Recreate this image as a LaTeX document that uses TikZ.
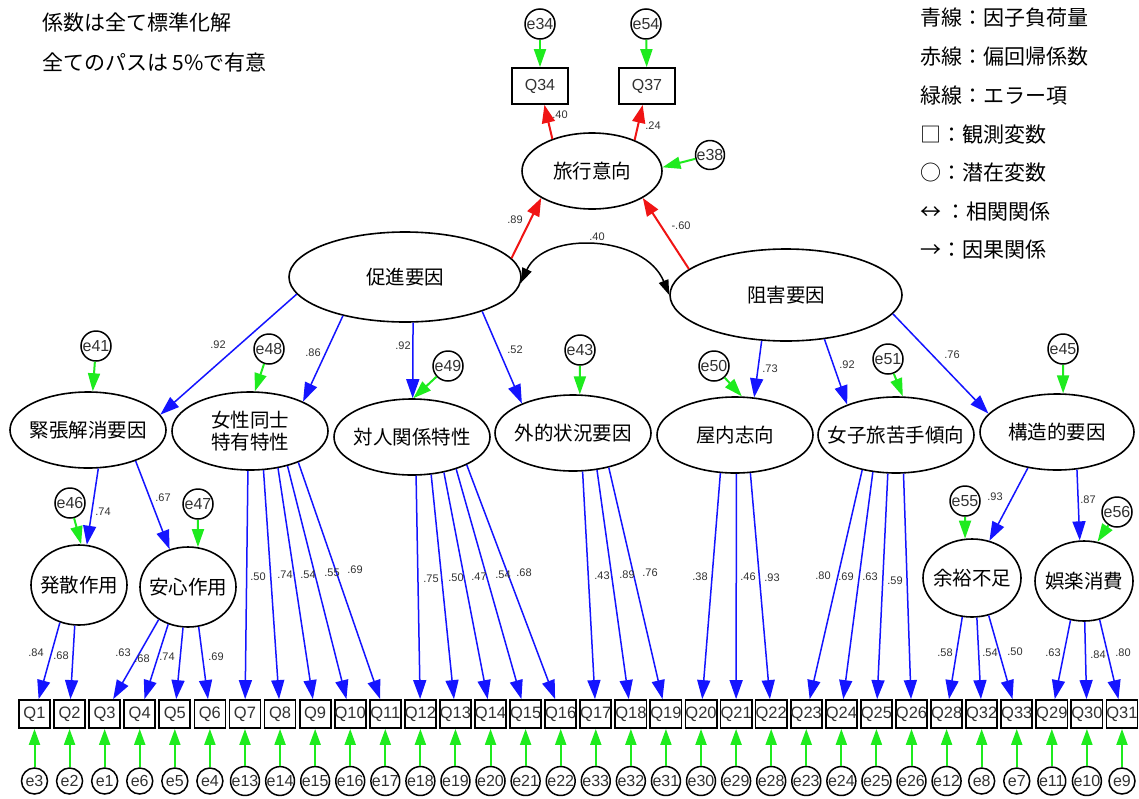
\documentclass[tikz,border=0pt]{standalone}
\usepackage{fontspec}
\setmainfont{Liberation Sans}
\newfontfamily\cjk{Noto Sans CJK JP}
\usetikzlibrary{shapes.geometric,arrows.meta}
\definecolor{ablue}{RGB}{20,20,255}
\definecolor{agreen}{RGB}{30,235,30}
\definecolor{ared}{RGB}{240,20,20}
\definecolor{atext}{RGB}{50,50,50}
\begin{document}
\begin{tikzpicture}[x=1pt,y=-1pt,
 lat/.style={ellipse, draw, line width=1.6pt, inner sep=0pt},
 lattext/.style={font=\cjk\fontsize{19.5}{22}\selectfont, align=center, inner sep=0pt},
 obs/.style={rectangle, draw, line width=1.8pt, minimum width=31pt, minimum height=28pt, inner sep=0pt, font=\fontsize{16.5}{16.5}\selectfont, text=atext},
 obsbig/.style={obs, minimum width=56pt, minimum height=36pt, font=\fontsize{16}{16}\selectfont},
 err/.style={circle, draw, line width=1.5pt, minimum size=26pt, inner sep=0pt, font=\fontsize{16}{16}\selectfont, text=atext},
 errbig/.style={err, minimum size=30pt},
 coef/.style={font=\fontsize{11}{11}\selectfont, text=atext, inner sep=0pt},
 ld/.style={draw=ablue, line width=1.5pt, -{Triangle[length=19pt,width=13pt]}},
 ea/.style={draw=agreen, line width=2pt, -{Triangle[length=18pt,width=12pt]}},
 eab/.style={draw=agreen, line width=2pt, -{Triangle[length=16pt,width=11pt]}},
 rg/.style={draw=ared, line width=2pt, -{Triangle[length=18pt,width=13pt]}},
 cv/.style={draw=black, line width=1.5pt, {Triangle[length=15pt,width=10pt]}-{Triangle[length=15pt,width=10pt]}},
 txt/.style={font=\cjk\fontsize{21}{21}\selectfont, anchor=west, inner sep=0pt},
]
\fill[white] (0,0) rectangle (1139,798);
\useasboundingbox (0,0) rectangle (1139,798);

% notes
\node[txt] (n1) at (42,22) {係数は全て標準化解};
\node[txt] (n2) at (42,62) {全てのパスは 5\%で有意};
% legend
\node[txt] (lg1) at (920,18) {青線：因子負荷量};
\node[txt] (lg2) at (920,57) {赤線：偏回帰係数};
\node[txt] (lg3) at (920,96) {緑線：エラー項};
\node[txt] (lg4) at (920,135) {□：観測変数};
\node[txt] (lg5) at (920,173) {○：潜在変数};
\node[txt] (lg6) at (920,212) {↔ ：相関関係};
\node[txt] (lg7) at (920,250) {→：因果関係};

% latent variables
\node[lat, minimum width=140pt, minimum height=76pt, label={[lattext]center:旅行意向}] (T) at (592,171) {};
\node[lat, minimum width=232pt, minimum height=90pt, label={[lattext]center:促進要因}] (C) at (405,277) {};
\node[lat, minimum width=232pt, minimum height=92pt, label={[lattext]center:阻害要因}] (S) at (786,295) {};
\node[lat, minimum width=156pt, minimum height=76pt, label={[lattext]center:緊張解消要因}] (F1) at (88,430) {};
\node[lat, minimum width=156pt, minimum height=78pt, label={[lattext]center:{女性同士\\特有特性}}] (F2) at (250,431) {};
\node[lat, minimum width=156pt, minimum height=76pt, label={[lattext]center:対人関係特性}] (F3) at (412,437) {};
\node[lat, minimum width=156pt, minimum height=76pt, label={[lattext]center:外的状況要因}] (F4) at (573,433) {};
\node[lat, minimum width=156pt, minimum height=76pt, label={[lattext]center:屋内志向}] (F5) at (735,435) {};
\node[lat, minimum width=156pt, minimum height=76pt, label={[lattext]center:女子旅苦手傾向}] (F6) at (896,435) {};
\node[lat, minimum width=154pt, minimum height=76pt, label={[lattext]center:構造的要因}] (F7) at (1057,432) {};
\node[lat, minimum width=96pt, minimum height=80pt, label={[lattext]center:発散作用}] (G1) at (79,585) {};
\node[lat, minimum width=96pt, minimum height=80pt, label={[lattext]center:安心作用}] (G2) at (188,587) {};
\node[lat, minimum width=98pt, minimum height=78pt, label={[lattext]center:余裕不足}] (G3) at (972,578) {};
\node[lat, minimum width=98pt, minimum height=80pt, label={[lattext]center:娯楽消費}] (G4) at (1084,581) {};

% top observed
\node[obsbig] (Q34) at (540,86) {Q34};
\node[obsbig] (Q37) at (647,86) {Q37};
\node[errbig] (e34) at (540,24) {e34};
\node[errbig] (e54) at (646,24) {e54};
\node[errbig, minimum size=28pt] (e38) at (710,155) {e38};

% error circles of latent variables
\node[errbig] (e41) at (96,346) {e41};
\node[errbig] (e48) at (269,349) {e48};
\node[errbig] (e49) at (448,366) {e49};
\node[errbig] (e43) at (580,350) {e43};
\node[errbig] (e50) at (714,366) {e50};
\node[errbig] (e51) at (888,359) {e51};
\node[errbig] (e45) at (1063,349) {e45};
\node[errbig] (e46) at (70,503) {e46};
\node[errbig] (e47) at (198,504) {e47};
\node[errbig] (e55) at (965,501) {e55};
\node[errbig] (e56) at (1117,512) {e56};

% bottom observed and errors
\foreach \q/\e [count=\i] in {1/3,2/2,3/1,4/6,5/5,6/4,7/13,8/14,9/15,10/16,11/17,12/18,13/19,14/20,15/21,16/22,17/33,18/32,19/31,20/30,21/29,22/28,23/23,24/24,25/25,26/26,28/12,32/8,33/7,29/11,30/10,31/9}{
  \pgfmathsetmacro\xx{34.5+35.08*(\i-1)}
  \node[obs] (Q\q) at (\xx,714) {Q\q};
  \node[err] (e\e) at (\xx,781) {e\e};
  \draw[eab] (e\e) -- (Q\q);
}

% regression paths
\draw[rg] (T.141) -- (Q34);
\draw[rg] (T.36) -- (Q37);
\draw[rg] (C.10) -- (T.-152);
\draw[rg] (S.165) -- (T.-28);
\draw[cv] (C.-3) .. controls (545,230) and (645,235) .. (S.180);

% error arrows
\draw[ea] (e34) -- (Q34);
\draw[ea] (e54) -- (Q37);
\draw[ea] (e38) -- (T.3);
\draw[ea] (e41) -- (F1.83);
\draw[ea] (e48) -- (F2.83);
\draw[ea] (e49) -- (F3.88);
\draw[ea] (e43) -- (F4.80);
\draw[ea] (e50) -- (F5.80);
\draw[ea] (e51) -- (F6.80);
\draw[ea] (e45) -- (F7.81);
\draw[ea] (e46) -- (G1.87);
\draw[ea] (e47) -- (G2.76);
\draw[ea] (e55) -- (G3.100);
\draw[ea] (e56) -- (G4.71);

% second-order loadings
\draw[ld] (C.-171) -- (F1.12);
\draw[ld] (C.-148) -- (F2.29);
\draw[ld] (C.-80) -- (F3.89);
\draw[ld] (C.-24) -- (F4.150);
\draw[ld] (S.-118) -- (F5.63);
\draw[ld] (S.-49) -- (F6.148);
\draw[ld] (S.-10) -- (F7.165);
\draw[ld] (F1.-75) -- (G1.79);
\draw[ld] (F1.-33) -- (G2.116);
\draw[ld] (F7.-129) -- (G3.65);
\draw[ld] (F7.-62) -- (G4.96);

% first-order loadings
\draw[ld] (G1.-117) -- (Q1);
\draw[ld] (G1.-96) -- (Q2);
\draw[ld] (G2.-132) -- (Q3);
\draw[ld] (G2.-118) -- (Q4);
\draw[ld] (G2.-97) -- (Q5);
\draw[ld] (G2.-75) -- (Q6);
\draw[ld] (F2.-93) -- (Q7);
\draw[ld] (F2.-71) -- (Q8);
\draw[ld] (F2.-53) -- (Q9);
\draw[ld] (F2.-43) -- (Q10);
\draw[ld] (F2.-33) -- (Q11);
\draw[ld] (F3.-84) -- (Q12);
\draw[ld] (F3.-63) -- (Q13);
\draw[ld] (F3.-48) -- (Q14);
\draw[ld] (F3.-36) -- (Q15);
\draw[ld] (F3.-27) -- (Q16);
\draw[ld] (F4.-76) -- (Q17);
\draw[ld] (F4.-57) -- (Q18);
\draw[ld] (F4.-44) -- (Q19);
\draw[ld] (F5.-111) -- (Q20);
\draw[ld] (F5.-88) -- (Q21);
\draw[ld] (F5.-68) -- (Q22);
\draw[ld] (F6.-134) -- (Q23);
\draw[ld] (F6.-122) -- (Q24);
\draw[ld] (F6.-102) -- (Q25);
\draw[ld] (F6.-79) -- (Q26);
\draw[ld] (G3.-104) -- (Q28);
\draw[ld] (G3.-83) -- (Q32);
\draw[ld] (G3.-66) -- (Q33);
\draw[ld] (G4.-109) -- (Q29);
\draw[ld] (G4.-89) -- (Q30);
\draw[ld] (G4.-68) -- (Q31);

% coefficients
\node[coef] (k1) at (560,115) {.40};
\node[coef] (k2) at (653,126) {.24};
\node[coef] (k3) at (515,220) {.89};
\node[coef] (k4) at (681,226) {-.60};
\node[coef] (k5) at (597,237) {.40};
\node[coef] (k6) at (218,345) {.92};
\node[coef] (k7) at (313,353) {.86};
\node[coef] (k8) at (403,346) {.92};
\node[coef] (k9) at (515,350) {.52};
\node[coef] (k10) at (770,369) {.73};
\node[coef] (k11) at (847,365) {.92};
\node[coef] (k12) at (952,355) {.76};
\node[coef] (k13) at (103,512) {.74};
\node[coef] (k14) at (163,498) {.67};
\node[coef] (k15) at (995,497) {.93};
\node[coef] (k16) at (1088,500) {.87};
\node[coef] (k17) at (36,653) {.84};
\node[coef] (k18) at (61,656) {.68};
\node[coef] (k19) at (123,653) {.63};
\node[coef] (k20) at (142,659) {.68};
\node[coef] (k21) at (167,657) {.74};
\node[coef] (k22) at (216,657) {.69};
\node[coef] (k23) at (258,577) {.50};
\node[coef] (k24) at (285,575) {.74};
\node[coef] (k25) at (308,575) {.54};
\node[coef] (k26) at (332,573) {.55};
\node[coef] (k27) at (355,570) {.69};
\node[coef] (k28) at (431,579) {.75};
\node[coef] (k29) at (456,578) {.50};
\node[coef] (k30) at (479,577) {.47};
\node[coef] (k31) at (503,575) {.54};
\node[coef] (k32) at (524,573) {.68};
\node[coef] (k33) at (602,576) {.43};
\node[coef] (k34) at (627,575) {.89};
\node[coef] (k35) at (650,573) {.76};
\node[coef] (k36) at (700,577) {.38};
\node[coef] (k37) at (748,577) {.46};
\node[coef] (k38) at (772,578) {.93};
\node[coef] (k39) at (823,576) {.80};
\node[coef] (k40) at (846,577) {.69};
\node[coef] (k41) at (870,577) {.63};
\node[coef] (k42) at (895,581) {.59};
\node[coef] (k43) at (945,653) {.58};
\node[coef] (k44) at (990,653) {.54};
\node[coef] (k45) at (1015,652) {.50};
\node[coef] (k46) at (1053,653) {.63};
\node[coef] (k47) at (1098,655) {.84};
\node[coef] (k48) at (1123,653) {.80};
\end{tikzpicture}
\end{document}
